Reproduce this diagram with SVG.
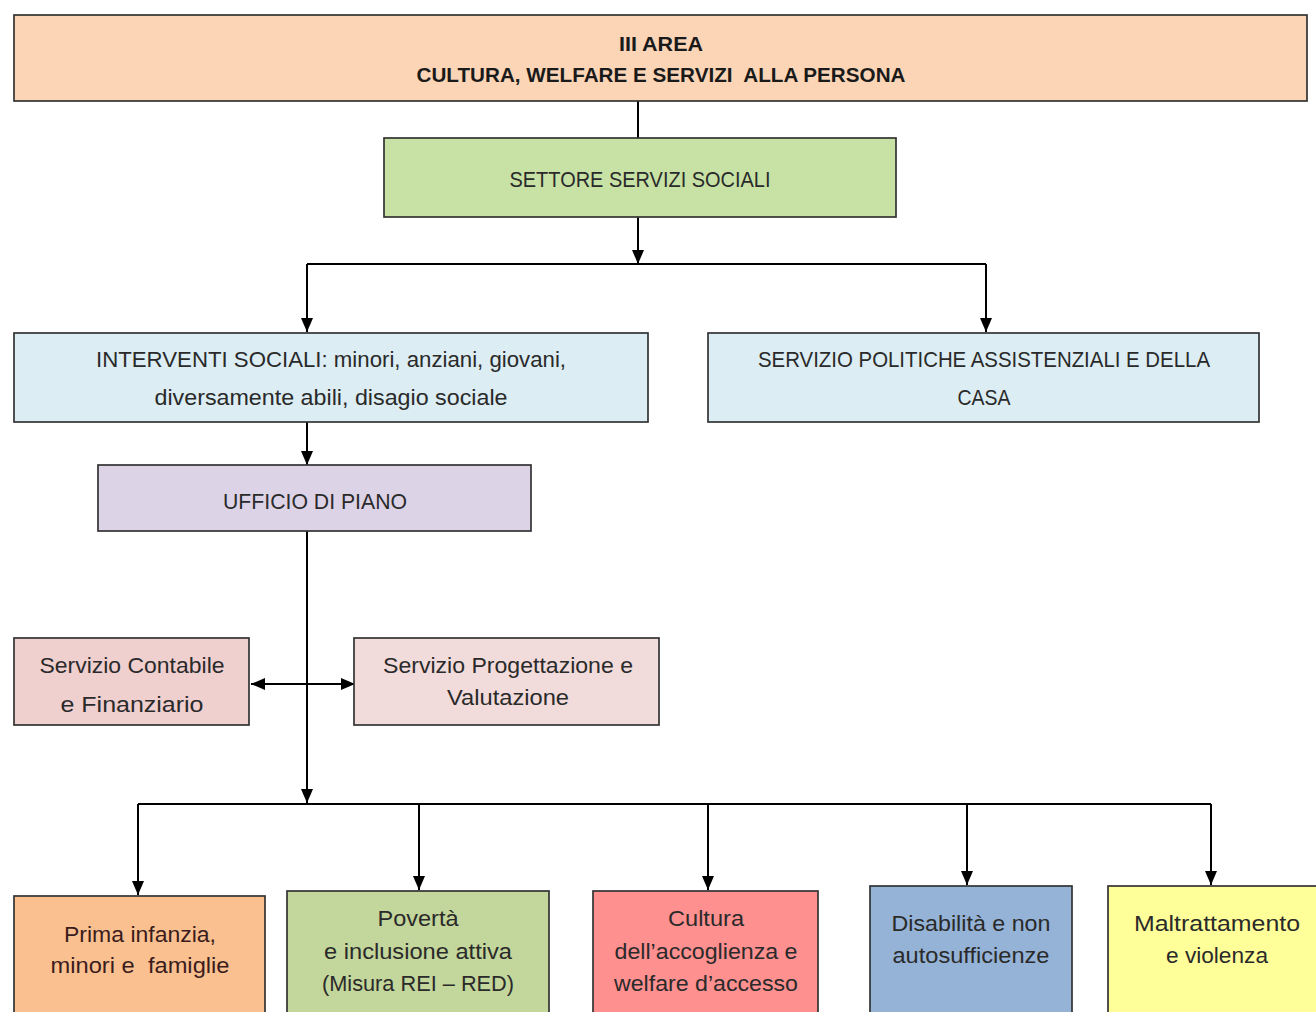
<svg xmlns="http://www.w3.org/2000/svg" width="1316" height="1012" viewBox="0 0 1316 1012">
<style>
.box{stroke:#333;stroke-width:1.7}
.t{font-family:"Liberation Sans",Arial,sans-serif;font-size:22px;fill:#2a2a2a;text-anchor:middle}
.b{font-weight:bold;fill:#1a1a1a;font-size:21px}
.c{stroke:#000;stroke-width:2;fill:none}
</style>
<defs>
<marker id="ah" markerUnits="userSpaceOnUse" markerWidth="14" markerHeight="12" refX="14" refY="6" orient="auto-start-reverse" viewBox="0 0 14 12">
<path d="M0,0 L14,6 L0,12 z" fill="#000"/>
</marker>
</defs>
<rect width="1316" height="1012" fill="#fff"/>
<g id="connectors">
<line class="c" x1="638" y1="101" x2="638" y2="138"/>
<line class="c" x1="638" y1="217" x2="638" y2="264" marker-end="url(#ah)"/>
<line class="c" x1="307" y1="264" x2="986" y2="264"/>
<line class="c" x1="307" y1="264" x2="307" y2="332" marker-end="url(#ah)"/>
<line class="c" x1="986" y1="264" x2="986" y2="332" marker-end="url(#ah)"/>
<line class="c" x1="307" y1="422" x2="307" y2="465" marker-end="url(#ah)"/>
<line class="c" x1="307" y1="531" x2="307" y2="803" marker-end="url(#ah)"/>
<line class="c" x1="251" y1="684" x2="355" y2="684" marker-start="url(#ah)" marker-end="url(#ah)"/>
<line class="c" x1="138" y1="804" x2="1211" y2="804"/>
<line class="c" x1="138" y1="804" x2="138" y2="895" marker-end="url(#ah)"/>
<line class="c" x1="419" y1="804" x2="419" y2="890" marker-end="url(#ah)"/>
<line class="c" x1="708" y1="804" x2="708" y2="890" marker-end="url(#ah)"/>
<line class="c" x1="967" y1="804" x2="967" y2="885" marker-end="url(#ah)"/>
<line class="c" x1="1211" y1="804" x2="1211" y2="885" marker-end="url(#ah)"/>
</g>
<g id="area">
<rect class="box" x="14" y="15" width="1293" height="86" fill="#fbd5b6"/>
<text class="t b" x="661" y="51" textLength="84" lengthAdjust="spacingAndGlyphs">III AREA</text>
<text class="t b" x="661" y="82" textLength="489" lengthAdjust="spacingAndGlyphs" xml:space="preserve">CULTURA, WELFARE E SERVIZI  ALLA PERSONA</text>
</g>
<g id="settore">
<rect class="box" x="384" y="138" width="512" height="79" fill="#c8e2a6"/>
<text class="t" x="640" y="187" textLength="261" lengthAdjust="spacingAndGlyphs">SETTORE SERVIZI SOCIALI</text>
</g>
<g id="interventi">
<rect class="box" x="14" y="333" width="634" height="89" fill="#dcedf3"/>
<text class="t" x="331" y="367" textLength="470" lengthAdjust="spacingAndGlyphs">INTERVENTI SOCIALI: minori, anziani, giovani,</text>
<text class="t" x="331" y="405" textLength="353" lengthAdjust="spacingAndGlyphs">diversamente abili, disagio sociale</text>
</g>
<g id="politiche">
<rect class="box" x="708" y="333" width="551" height="89" fill="#dcedf3"/>
<text class="t" x="984" y="367" textLength="452" lengthAdjust="spacingAndGlyphs">SERVIZIO POLITICHE ASSISTENZIALI E DELLA</text>
<text class="t" x="984" y="405" textLength="53" lengthAdjust="spacingAndGlyphs">CASA</text>
</g>
<g id="ufficio">
<rect class="box" x="98" y="465" width="433" height="66" fill="#ddd3e6"/>
<text class="t" x="315" y="509" textLength="184" lengthAdjust="spacingAndGlyphs">UFFICIO DI PIANO</text>
</g>
<g id="contabile">
<rect class="box" x="14" y="638" width="235" height="87" fill="#f0cfcf"/>
<text class="t" x="132" y="673" textLength="185" lengthAdjust="spacingAndGlyphs">Servizio Contabile</text>
<text class="t" x="132" y="712" textLength="143" lengthAdjust="spacingAndGlyphs">e Finanziario</text>
</g>
<g id="progettazione">
<rect class="box" x="354" y="638" width="305" height="87" fill="#f2dcdb"/>
<text class="t" x="508" y="673" textLength="250" lengthAdjust="spacingAndGlyphs">Servizio Progettazione e</text>
<text class="t" x="508" y="705" textLength="122" lengthAdjust="spacingAndGlyphs">Valutazione</text>
</g>
<g id="infanzia">
<rect class="box" x="14" y="896" width="251" height="130" fill="#fac090"/>
<text class="t" x="140" y="942" style="fill:#3a1c1c" textLength="152" lengthAdjust="spacingAndGlyphs">Prima infanzia,</text>
<text class="t" x="140" y="973" style="fill:#3a1c1c" textLength="179" lengthAdjust="spacingAndGlyphs" xml:space="preserve">minori e  famiglie</text>
</g>
<g id="poverta">
<rect class="box" x="287" y="891" width="262" height="135" fill="#c3d69b"/>
<text class="t" x="418" y="926" textLength="81" lengthAdjust="spacingAndGlyphs">Povertà</text>
<text class="t" x="418" y="959" textLength="188" lengthAdjust="spacingAndGlyphs">e inclusione attiva</text>
<text class="t" x="418" y="991" textLength="192" lengthAdjust="spacingAndGlyphs">(Misura REI – RED)</text>
</g>
<g id="cultura">
<rect class="box" x="593" y="891" width="225" height="135" fill="#ff9090"/>
<text class="t" x="706" y="926" textLength="76" lengthAdjust="spacingAndGlyphs">Cultura</text>
<text class="t" x="706" y="959" textLength="183" lengthAdjust="spacingAndGlyphs">dell’accoglienza e</text>
<text class="t" x="706" y="991" textLength="184" lengthAdjust="spacingAndGlyphs">welfare d’accesso</text>
</g>
<g id="disabilita">
<rect class="box" x="870" y="886" width="202" height="140" fill="#95b3d7"/>
<text class="t" x="971" y="931" textLength="159" lengthAdjust="spacingAndGlyphs">Disabilità e non</text>
<text class="t" x="971" y="963" textLength="157" lengthAdjust="spacingAndGlyphs">autosufficienze</text>
</g>
<g id="maltrattamento">
<rect class="box" x="1108" y="886" width="220" height="140" fill="#ffff99"/>
<text class="t" x="1217" y="931" textLength="166" lengthAdjust="spacingAndGlyphs">Maltrattamento</text>
<text class="t" x="1217" y="963" textLength="102" lengthAdjust="spacingAndGlyphs">e violenza</text>
</g>
</svg>
